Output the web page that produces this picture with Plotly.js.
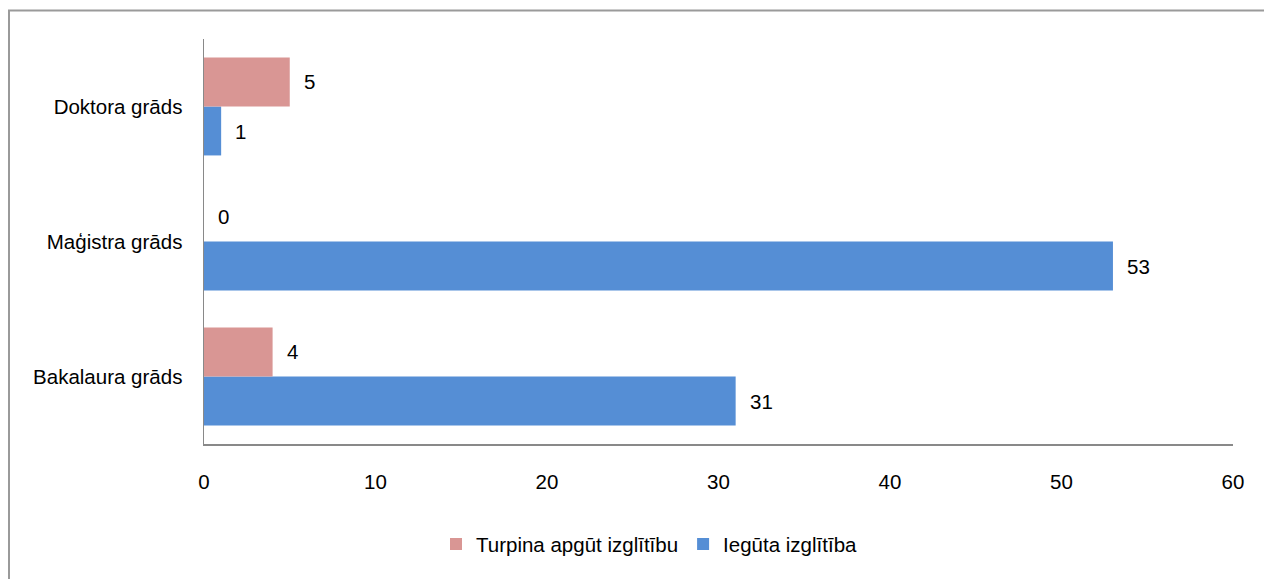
<!DOCTYPE html>
<html>
<head>
<meta charset="utf-8">
<script src="https://cdn.plot.ly/plotly-3.0.1.min.js"></script>
<style>
  html, body { margin: 0; padding: 0; background: #fff; }
  #chart { width: 1264px; height: 579px; }
</style>
</head>
<body>
<div id="chart"></div>
<script>
const categories = ["Bakalaura grāds", "Maģistra grāds", "Doktora grāds"];
const seriesNames = ["Turpina apgūt izglītību", "Iegūta izglītība"];
const turpinaValues = [4, 0, 5];
const iegutaValues = [31, 53, 1];
const xTicks = [0, 10, 20, 30, 40, 50, 60];

const FONT = "'Liberation Sans', Arial, sans-serif";
const FS = 20.5;
const PINK = "#D99694";
const BLUE = "#558ED5";

const W = 1264, H = 579;
const M = {l: 204, r: 31, t: 38.5, b: 134.5};
const pw = W - M.l - M.r, ph = H - M.t - M.b;
const px2x = p => (p - M.l) / pw;
const px2y = p => (H - M.b - p) / ph;

const traces = [
  {
    type: "bar", orientation: "h", name: seriesNames[1],
    y: categories, x: iegutaValues,
    marker: {color: BLUE, line: {width: 0}},
    hoverinfo: "none"
  },
  {
    type: "bar", orientation: "h", name: seriesNames[0],
    y: categories, x: turpinaValues,
    marker: {color: PINK, line: {width: 0}},
    hoverinfo: "none"
  }
];

const annotations = [];
categories.forEach((c, i) => {
  annotations.push({
    x: turpinaValues[i], y: c, xref: "x", yref: "y",
    text: String(turpinaValues[i]), showarrow: false,
    xanchor: "left", yanchor: "middle", xshift: 12, yshift: 25,
    font: {family: FONT, size: FS, color: "#000"}
  });
  annotations.push({
    x: iegutaValues[i], y: c, xref: "x", yref: "y",
    text: String(iegutaValues[i]), showarrow: false,
    xanchor: "left", yanchor: "middle", xshift: 12, yshift: -25,
    font: {family: FONT, size: FS, color: "#000"}
  });
});

const layout = {
  width: W, height: H,
  margin: M,
  paper_bgcolor: "#fff", plot_bgcolor: "#fff",
  barmode: "group", bargap: 0.275, bargroupgap: 0,
  font: {family: FONT, size: FS, color: "#000"},
  xaxis: {
    range: [0, 60], tickvals: xTicks, ticktext: xTicks.map(String),
    showgrid: false, zeroline: false, ticks: "",
    showline: true, linecolor: "#898989", linewidth: 1.5,
    ticklabelstandoff: 19,
    tickfont: {family: FONT, size: FS, color: "#000"},
    fixedrange: true
  },
  yaxis: {
    type: "category", categoryorder: "array", categoryarray: categories,
    showgrid: false, zeroline: false, ticks: "",
    showline: true, linecolor: "#898989", linewidth: 1.5,
    ticklabelstandoff: 16,
    tickfont: {family: FONT, size: FS, color: "#000"},
    fixedrange: true
  },
  showlegend: true,
  legend: {
    orientation: "h", traceorder: "reversed",
    x: px2x(436), xanchor: "left",
    y: px2y(545), yanchor: "middle",
    font: {family: FONT, size: FS, color: "#000"},
    bgcolor: "rgba(0,0,0,0)", borderwidth: 0
  },
  annotations: annotations,
  shapes: [{
    type: "rect", xref: "paper", yref: "paper", layer: "below",
    x0: px2x(9), x1: px2x(1280), y0: px2y(600), y1: px2y(10),
    line: {color: "#9a9a9a", width: 2}, fillcolor: "rgba(0,0,0,0)"
  }]
};

Plotly.newPlot("chart", traces, layout, {displayModeBar: false, staticPlot: true});
</script>
</body>
</html>
